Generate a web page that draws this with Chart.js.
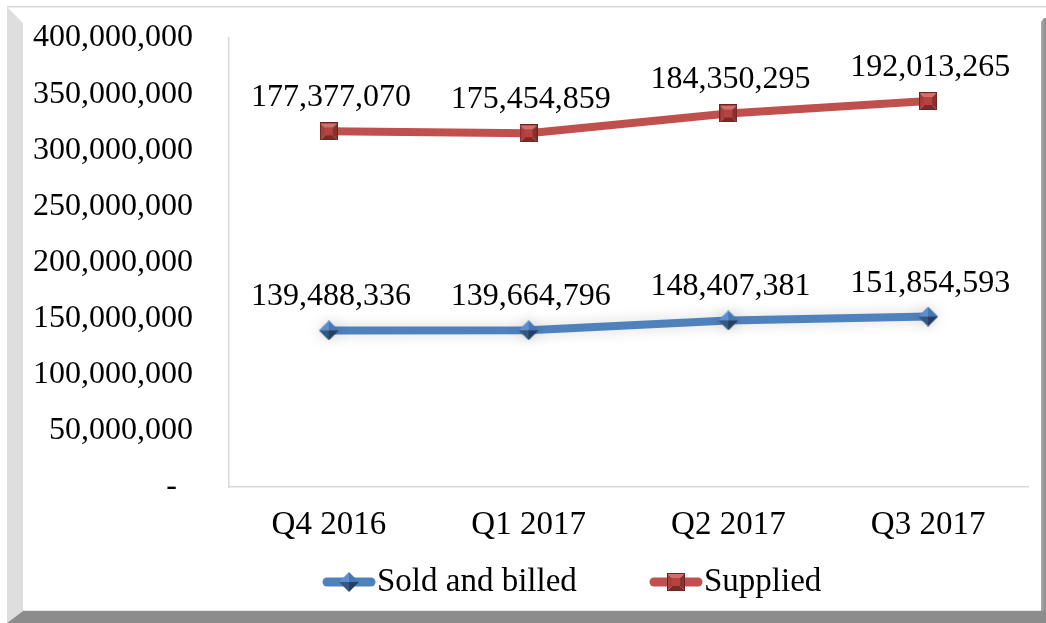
<!DOCTYPE html>
<html>
<head>
<meta charset="utf-8">
<script src="https://cdn.jsdelivr.net/npm/chart.js@4/dist/chart.umd.min.js"></script>
<style>
  html, body { margin: 0; padding: 0; background: #fff; }
  #wrap { width: 1046px; height: 623px; position: relative; }
</style>
</head>
<body>
<div id="wrap"><canvas id="myChart" width="1046" height="623"></canvas></div>
<script>
// data
const categories = ["Q4 2016", "Q1 2017", "Q2 2017", "Q3 2017"];
const soldAndBilled = [139488336, 139664796, 148407381, 151854593];
const supplied = [177377070, 175454859, 184350295, 192013265];
const seriesNames = ["Sold and billed", "Supplied"];
const yMax = 400000000;
const yStep = 50000000;

const SERIF = '"Liberation Serif", "Times New Roman", serif';
const BLUE = "#4f81bd";
const RED = "#c0504d";

// bevelled markers drawn once on small canvases
function makeDiamond() {
  const c = document.createElement("canvas");
  c.width = 20; c.height = 20;
  const g = c.getContext("2d");
  const tri = (pts, col) => {
    g.fillStyle = col;
    g.beginPath();
    g.moveTo(pts[0], pts[1]); g.lineTo(pts[2], pts[3]); g.lineTo(pts[4], pts[5]);
    g.closePath(); g.fill();
  };
  tri([0, 10, 10, 0, 10, 10], "#5d8fd0");
  tri([10, 0, 20, 10, 10, 10], "#4677b5");
  tri([20, 10, 10, 20, 10, 10], "#253f62");
  tri([10, 20, 0, 10, 10, 10], "#35587f");
  return c;
}

function makeSquare() {
  const c = document.createElement("canvas");
  c.width = 18; c.height = 18;
  const g = c.getContext("2d");
  const quad = (pts, col) => {
    g.fillStyle = col;
    g.beginPath();
    g.moveTo(pts[0], pts[1]);
    for (let i = 2; i < pts.length; i += 2) g.lineTo(pts[i], pts[i + 1]);
    g.closePath(); g.fill();
  };
  quad([0, 0, 18, 0, 13, 5, 5, 5], "#d46e6a");
  quad([18, 0, 18, 18, 13, 13, 13, 5], "#8a302d");
  quad([18, 18, 0, 18, 5, 13, 13, 13], "#7c2a28");
  quad([0, 18, 0, 0, 5, 5, 5, 13], "#a83f3c");
  g.fillStyle = "#b4443f";
  g.fillRect(5, 5, 8, 8);
  g.strokeStyle = "#6e2422";
  g.lineWidth = 1;
  g.strokeRect(0.5, 0.5, 17, 17);
  return c;
}

const diamondImg = makeDiamond();
const squareImg = makeSquare();

// frame of the chart box (light left bevel, dark bottom/right)
const framePlugin = {
  id: "frame",
  beforeDraw(chart) {
    const ctx = chart.ctx;
    const w = chart.width, h = chart.height;
    ctx.save();
    ctx.fillStyle = "#fff";
    ctx.fillRect(0, 0, w, h);
    ctx.fillStyle = "#d9d9d9";
    ctx.fillRect(7, 6, w - 7, 1.5);
    ctx.fillStyle = "#dedede";
    ctx.beginPath();
    ctx.moveTo(7, 7); ctx.lineTo(23, 23); ctx.lineTo(23, 611); ctx.lineTo(7, 623);
    ctx.closePath(); ctx.fill();
    ctx.fillStyle = "#8c8c8c";
    ctx.beginPath();
    ctx.moveTo(7, 623); ctx.lineTo(23, 611); ctx.lineTo(w, 611); ctx.lineTo(w, 623);
    ctx.closePath(); ctx.fill();
    const grad = ctx.createLinearGradient(1040, 0, w, 0);
    grad.addColorStop(0, "#b0b0b0");
    grad.addColorStop(1, "#8c8c8c");
    ctx.fillStyle = grad;
    ctx.beginPath();
    ctx.moveTo(1041, 22); ctx.lineTo(1044, 18); ctx.lineTo(w, 18); ctx.lineTo(w, 611); ctx.lineTo(1041, 611);
    ctx.closePath(); ctx.fill();
    ctx.fillStyle = "#e6e6e6";
    ctx.fillRect(23, 610, 1018, 1);
    ctx.restore();
  },
};

// soft halo under the blue line
const glowPlugin = {
  id: "glow",
  beforeDatasetDraw(chart, args) {
    if (args.index !== 0) return;
    chart.ctx.save();
    chart.ctx.shadowColor = "rgba(0,0,0,0.16)";
    chart.ctx.shadowBlur = 14;
  },
  afterDatasetDraw(chart, args) {
    if (args.index !== 0) return;
    chart.ctx.restore();
  },
};

// value labels above the markers, showing the raw (unstacked) values
const valueLabels = {
  id: "valueLabels",
  afterDatasetsDraw(chart) {
    const ctx = chart.ctx;
    ctx.save();
    ctx.font = "32px " + SERIF;
    ctx.fillStyle = "#000";
    ctx.textAlign = "center";
    ctx.textBaseline = "alphabetic";
    chart.data.datasets.forEach((ds, i) => {
      const meta = chart.getDatasetMeta(i);
      meta.data.forEach((pt, j) => {
        ctx.fillText(ds.data[j].toLocaleString("en-US"), pt.x + 2, pt.y - 25);
      });
    });
    ctx.restore();
  },
};

// legend: line with marker, text right after
const legendPlugin = {
  id: "lineLegend",
  afterDraw(chart) {
    const ctx = chart.ctx;
    const startX = [323, 650];
    const y = 582;
    ctx.save();
    chart.data.datasets.forEach((ds, i) => {
      const x0 = startX[i];
      ctx.strokeStyle = ds.borderColor;
      ctx.lineWidth = 9;
      ctx.lineCap = "round";
      ctx.beginPath();
      ctx.moveTo(x0 + 4, y);
      ctx.lineTo(x0 + 48, y);
      ctx.stroke();
      const img = ds.pointStyle;
      ctx.drawImage(img, x0 + 26 - img.width / 2, y - img.height / 2);
      ctx.font = "33px " + SERIF;
      ctx.fillStyle = "#000";
      ctx.textAlign = "left";
      ctx.textBaseline = "middle";
      ctx.fillText(ds.label, x0 + 54, y);
    });
    ctx.restore();
  },
};

const ctx = document.getElementById("myChart").getContext("2d");
const chart = new Chart(ctx, {
  type: "line",
  data: {
    labels: categories,
    datasets: [
      {
        label: seriesNames[0],
        data: soldAndBilled,
        borderColor: BLUE,
        backgroundColor: BLUE,
        borderWidth: 8,
        pointStyle: diamondImg,
        pointRadius: 10,
        fill: false,
        tension: 0,
      },
      {
        label: seriesNames[1],
        data: supplied,
        borderColor: RED,
        backgroundColor: RED,
        borderWidth: 8,
        pointStyle: squareImg,
        pointRadius: 9,
        fill: false,
        tension: 0,
      },
    ],
  },
  options: {
    responsive: false,
    animation: false,
    layout: { padding: { left: 24, top: 38, right: 18, bottom: 79 } },
    plugins: {
      legend: { display: false },
      tooltip: { enabled: false },
    },
    scales: {
      x: {
        offset: true,
        grid: { display: false, drawTicks: false },
        border: { display: true, color: "#d9d9d9", width: 1.5 },
        ticks: {
          color: "#000",
          padding: 19,
          font: { family: SERIF, size: 33 },
          maxRotation: 0,
        },
        afterFit(scale) { scale.height = 57; },
      },
      y: {
        stacked: true,
        min: 0,
        max: yMax,
        grid: { display: false, drawTicks: false },
        border: { display: true, color: "#d9d9d9", width: 1.5 },
        ticks: {
          stepSize: yStep,
          color: "#000",
          padding: 36,
          font: { family: SERIF, size: 32 },
          callback: (v) => (v === 0 ? "-  " : v.toLocaleString("en-US")),
        },
        afterFit(scale) {
          scale.width = 205;
          scale.paddingTop = 16;
          scale.paddingBottom = 16;
        },
      },
    },
  },
  plugins: [framePlugin, glowPlugin, valueLabels, legendPlugin],
});
</script>
</body>
</html>
